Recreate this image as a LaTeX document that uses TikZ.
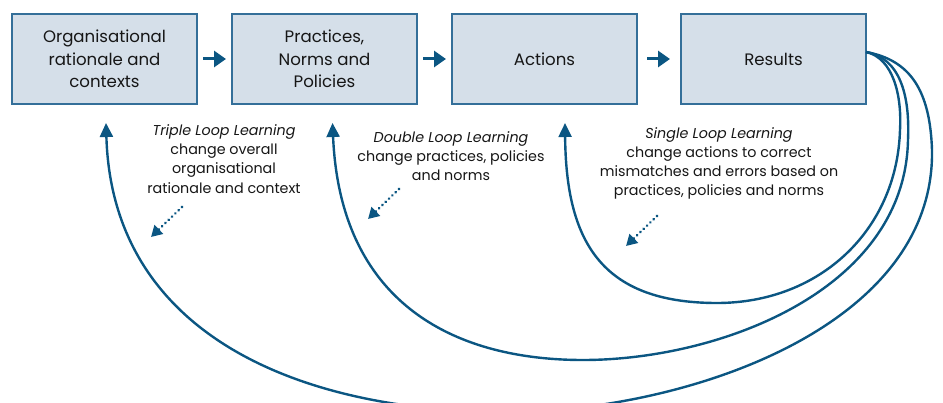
\documentclass[tikz,border=0pt]{standalone}
\usepackage{fontspec}
\setmainfont{Poppins}
\usepackage{xcolor}
\usepackage{tikz}
\usetikzlibrary{positioning, calc, arrows.meta}
\definecolor{loopBlue}{HTML}{0B5682}
\definecolor{boxFill}{HTML}{D5DFE9}
\definecolor{boxLine}{HTML}{346F99}
\definecolor{textDark}{HTML}{161616}

\tikzset{
    stage/.style={draw=boxLine, line width=1.3pt, fill=boxFill, minimum width=185pt,
        minimum height=90pt, inner sep=0pt, outer sep=0pt, align=center,
        text=textDark, font=\fontsize{16.6}{22.5}\selectfont},
    flow/.style={-{Triangle[length=12pt,width=16pt]}, line width=3pt, loopBlue},
    feedback/.style={-{Triangle[length=14pt,width=13pt]}, line width=2.4pt, loopBlue},
    hint/.style={-{Triangle[length=11pt,width=12pt]}, line width=3pt, loopBlue,
        line cap=round, dash pattern=on 0.01pt off 4.6pt},
    note/.style={align=center, inner sep=0pt, text=textDark, font=\fontsize{14.3}{19.2}\selectfont}
}

\begin{document}
\begin{tikzpicture}[x=1pt, y=-1pt]
    \useasboundingbox (0,0) rectangle (943,403);
    \clip (0,0) rectangle (943,403);

    \node[stage] (org) at (104.5,59) {Organisational\\rationale and\\contexts};
    \node[stage, right=35pt of org] (prac) {Practices,\\Norms and\\Policies};
    \node[stage, right=35pt of prac] (act) {Actions};
    \node[stage, right=44pt of act] (res) {Results};

    \draw[flow, shorten <=6pt, shorten >=6pt] (org) -- (prac);
    \draw[flow, shorten <=6pt, shorten >=6pt] (prac) -- (act);
    \draw[flow, shorten <=10pt, shorten >=11pt] (act) -- (res);

    \coordinate (fb) at ($(res.east)+(0,-7)$);
    \coordinate (sgl) at ($(act.south)+(20.5,19)$);
    \coordinate (dbl) at ($(prac.south)+(8,19)$);
    \coordinate (tpl) at ($(org.south)+(1.5,19)$);

    \draw[feedback] (fb) .. controls (893,58) and (902,95) .. (900,130)
        .. controls (897,230) and (820,303) .. (717,303)
        .. controls (600,303) and (566,240) .. (sgl);
    \draw[feedback] (fb) .. controls (900,58) and (910,95) .. (908,140)
        .. controls (905,290) and (720,360) .. (583,360)
        .. controls (450,360) and (340,300) .. (dbl);
    \draw[feedback] (fb) .. controls (910,60) and (930,90) .. (932,150)
        .. controls (935,330) and (680,412) .. (507,412)
        .. controls (300,412) and (112,335) .. (tpl);

    \node[note] (tplNote) at (224,159) {\textit{Triple Loop Learning}\\change overall\\organisational\\rationale and context};
    \node[note] (dblNote) at (451,156) {\textit{Double Loop Learning}\\change practices, policies\\and norms};
    \node[note] (sglNote) at (719,163.5) {\textit{Single Loop Learning}\\change actions to correct\\mismatches and errors based on\\practices, policies and norms};

    \coordinate (tplA) at (182,207);
    \coordinate (tplB) at (151,237);
    \coordinate (dblA) at (399,189);
    \coordinate (dblB) at (368,219);
    \coordinate (sglA) at (657,216);
    \coordinate (sglB) at (626,246);
    \draw[hint] (tplA) -- (tplB);
    \draw[hint] (dblA) -- (dblB);
    \draw[hint] (sglA) -- (sglB);
\end{tikzpicture}
\end{document}
